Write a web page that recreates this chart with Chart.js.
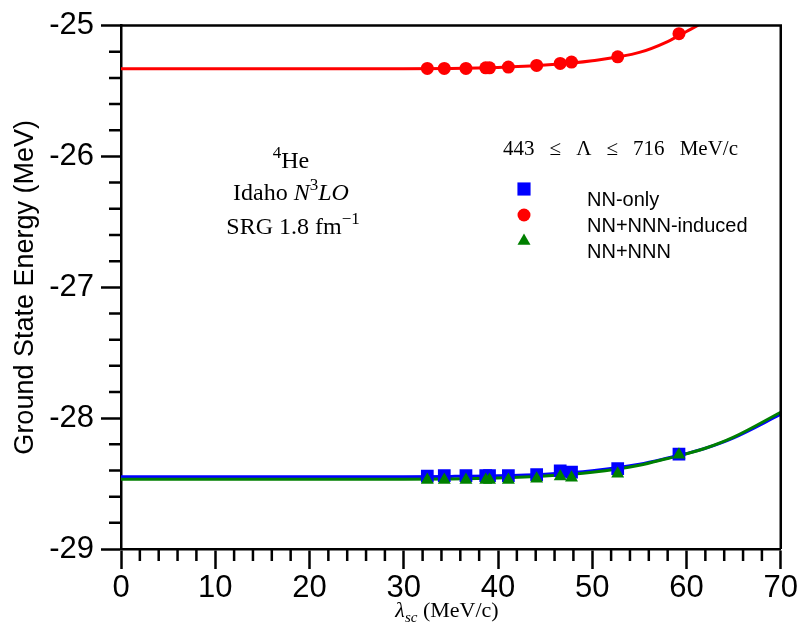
<!DOCTYPE html>
<html>
<head>
<meta charset="utf-8">
<script src="https://cdn.jsdelivr.net/npm/chart.js@4.4.1/dist/chart.umd.min.js"></script>
<style>
  html, body { margin: 0; padding: 0; background: #fff; }
  canvas { display: block; }
</style>
</head>
<body>
<canvas id="chart" width="799" height="637"></canvas>
<script>
// lambda_sc values of the calculations (MeV/c)
const lambdaPts = [32.5, 34.3, 36.6, 38.7, 39.1, 41.1, 44.1, 46.6, 47.8, 52.7, 59.2];
// ground state energies (MeV)
const nnOnly      = [-28.443, -28.440, -28.440, -28.440, -28.440, -28.440, -28.432, -28.402, -28.413, -28.386, -28.275];
const nnInduced   = [-25.327, -25.327, -25.327, -25.323, -25.323, -25.317, -25.304, -25.289, -25.279, -25.239, -25.062];
const nnNNN       = [-28.472, -28.472, -28.472, -28.472, -28.472, -28.472, -28.463, -28.445, -28.455, -28.424, -28.280];

// fitted curves
const fitLambda   = [0, 30, 35, 40, 45, 50, 55, 58, 60, 62, 65, 70];
const fitNNOnly   = [-28.447, -28.447, -28.445, -28.440, -28.428, -28.402, -28.352, -28.305, -28.270, -28.230, -28.150, -27.970];
const fitInduced  = [-25.330, -25.330, -25.328, -25.320, -25.302, -25.268, -25.205, -25.122, -25.045, -24.965, -24.820, -24.500];
const fitNNN      = [-28.467, -28.467, -28.465, -28.458, -28.443, -28.414, -28.360, -28.308, -28.272, -28.230, -28.145, -27.955];

const yTicks = { min: -29, max: -25, step: 1, minor: 0.2 };
const xTicks = { min: 0, max: 70, step: 10, minor: 2 };

const pts = (xs, ys) => xs.map((x, i) => ({ x: x, y: ys[i] }));

const axisFont = { family: 'Liberation Sans, Arial, sans-serif', size: 31 };

// frame, minor ticks and the text boxes
const extras = {
  id: 'extras',
  afterDraw(chart) {
    const ctx = chart.ctx;
    const a = chart.chartArea;
    const xs = chart.scales.x, ys = chart.scales.y;
    ctx.save();
    ctx.strokeStyle = '#000';
    ctx.lineWidth = 2.5;
    ctx.beginPath();
    ctx.moveTo(a.left, a.top);
    ctx.lineTo(a.right, a.top);
    ctx.lineTo(a.right, a.bottom);
    ctx.stroke();

    // minor ticks
    ctx.beginPath();
    let n = Math.round((yTicks.max - yTicks.min) / yTicks.minor);
    for (let i = 0; i <= n; i++) {
      if (i % 5 === 0) continue;
      const py = ys.getPixelForValue(yTicks.min + i * yTicks.minor);
      ctx.moveTo(a.left - 12, py);
      ctx.lineTo(a.left, py);
    }
    n = Math.round((xTicks.max - xTicks.min) / xTicks.minor);
    for (let i = 0; i <= n; i++) {
      if (i % 5 === 0) continue;
      const px = xs.getPixelForValue(xTicks.min + i * xTicks.minor);
      ctx.moveTo(px, a.bottom);
      ctx.lineTo(px, a.bottom + 12);
    }
    ctx.stroke();

    ctx.fillStyle = '#000';
    ctx.textBaseline = 'alphabetic';
    ctx.textAlign = 'left';
    const serif = 'Liberation Serif, Times New Roman, serif';

    // draw a run of [text, size, italic, dy] pieces centred on cx
    function runs(parts, cx, base) {
      let w = 0;
      parts.forEach(p => {
        ctx.font = (p[2] ? 'italic ' : '') + p[1] + 'px ' + serif;
        w += ctx.measureText(p[0]).width;
      });
      let x = cx - w / 2;
      parts.forEach(p => {
        ctx.font = (p[2] ? 'italic ' : '') + p[1] + 'px ' + serif;
        ctx.fillText(p[0], x, base + p[3]);
        x += ctx.measureText(p[0]).width;
      });
    }

    runs([['4', 17, false, -10], ['He', 24, false, 0]], 291, 168);
    runs([['Idaho ', 24, false, 0], ['N', 24, true, 0], ['3', 17, false, -10], ['LO', 24, true, 0]], 291, 200);
    runs([['SRG 1.8 fm', 24, false, 0], ['\u22121', 17, false, -10]], 293, 234);

    // x axis title
    runs([['\u03bb', 22, true, 0], ['sc', 15, true, 5], [' (MeV/c)', 22, false, 0]], 447, 617);

    // cutoff range, spread over its width like the original
    const words = ['443', '\u2264', '\u039b', '\u2264', '716', 'MeV/c'];
    ctx.font = '21px ' + serif;
    const left = 503, right = 738;
    const total = words.reduce((s, t) => s + ctx.measureText(t).width, 0);
    const gap = (right - left - total) / (words.length - 1);
    let wx = left;
    words.forEach(t => {
      ctx.fillText(t, wx, 155);
      wx += ctx.measureText(t).width + gap;
    });

    // legend
    const rows = [189, 215, 241];
    ctx.font = '20px Liberation Sans, Arial, sans-serif';
    ctx.textBaseline = 'middle';
    chart.data.datasets.filter(d => d.label).forEach((d, i) => {
      ctx.fillStyle = d.pointBackgroundColor;
      Chart.helpers.drawPoint(ctx, { pointStyle: d.pointStyle, radius: d.legendRadius, rotation: 0, borderWidth: 0 }, 524, rows[i]);
      ctx.fillStyle = '#000';
      ctx.fillText(d.label, 587, rows[i] + 11);
    });
    ctx.restore();
  }
};

const curve = (data, color, order) => ({
  data: data, borderColor: color, borderWidth: 3, pointRadius: 0,
  fill: false, cubicInterpolationMode: 'monotone', order: order
});
const marks = (label, data, color, style, r, lr, order) => ({
  label: label, data: data, showLine: false, pointStyle: style,
  pointRadius: r, pointBackgroundColor: color, pointBorderWidth: 0,
  borderColor: color, legendRadius: lr, order: order
});

new Chart(document.getElementById('chart'), {
  type: 'line',
  data: {
    datasets: [
      marks('NN-only', pts(lambdaPts, nnOnly), '#0000ff', 'rect', 9, 9.3, 3),
      marks('NN+NNN-induced', pts(lambdaPts, nnInduced), '#ff0000', 'circle', 6.5, 6.5, 2),
      marks('NN+NNN', pts(lambdaPts, nnNNN), '#008000', 'triangle', 7.5, 7.5, 1),
      curve(pts(fitLambda, fitNNOnly), '#0000ff', 6),
      curve(pts(fitLambda, fitNNN), '#008000', 5),
      curve(pts(fitLambda, fitInduced), '#ff0000', 4)
    ]
  },
  options: {
    responsive: false,
    animation: false,
    devicePixelRatio: 1,
    layout: { padding: { top: 19, right: 17, left: 0, bottom: 0 } },
    plugins: { legend: { display: false }, tooltip: { enabled: false } },
    scales: {
      x: {
        type: 'linear', min: xTicks.min, max: xTicks.max,
        ticks: { stepSize: xTicks.step, font: axisFont, color: '#000', padding: 1, maxRotation: 0, autoSkip: false },
        grid: { drawOnChartArea: false, tickLength: 20, tickWidth: 2.5, tickColor: '#000' },
        border: { color: '#000', width: 2.5 },
        afterFit(s) { s.height = 88; }
      },
      y: {
        type: 'linear', min: yTicks.min, max: yTicks.max,
        ticks: { stepSize: yTicks.step, font: axisFont, color: '#000', padding: 7, callback: v => String(v) },
        grid: { drawOnChartArea: false, tickLength: 20, tickWidth: 2.5, tickColor: '#000' },
        border: { color: '#000', width: 2.5 },
        title: {
          display: true, text: 'Ground State Energy (MeV)', color: '#000',
          font: { family: 'Liberation Sans, Arial, sans-serif', size: 27 },
          padding: { top: 9, bottom: 0 }
        },
        afterFit(s) { s.width = 121; }
      }
    }
  },
  plugins: [extras]
});
</script>
</body>
</html>
